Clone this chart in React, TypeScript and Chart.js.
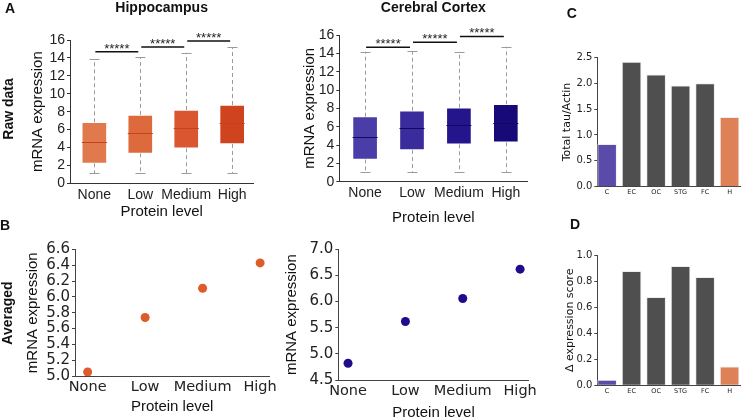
import React, { useEffect, useRef } from 'react';
import { Chart, registerables } from 'chart.js';
Chart.register(...registerables);

// ---------- data ----------
const proteinLevels = ['None', 'Low', 'Medium', 'High'];

// Panel A – Hippocampus (raw data box plots)
const hipLow = [1.12, 1.1, 1.1, 1.1];
const hipQ1 = [2.23, 3.35, 3.91, 4.39];
const hipMed = [4.58, 5.65, 6.14, 6.7];
const hipQ3 = [6.81, 7.63, 8.18, 8.74];
const hipHigh = [13.84, 14.07, 14.58, 15.18];
const hipSigY = [14.7, 15.22, 15.89];

// Panel A – Cerebral Cortex
const ctxLow = [1.09, 1.09, 1.09, 1.09];
const ctxQ1 = [2.44, 3.46, 4.08, 4.3];
const ctxMed = [4.91, 5.82, 6.18, 6.43];
const ctxQ3 = [7.09, 7.74, 8.07, 8.44];
const ctxHigh = [14.18, 14.25, 14.2, 14.72];
const ctxSigY = [14.66, 15.2, 15.85];

const sigFrom = [0, 1, 2];
const sigTo = [1, 2, 3];
const sigLabel = '*****';

// Panel B – averaged
const hipAvg = [5.05, 5.74, 6.11, 6.43];
const ctxAvg = [4.82, 5.62, 6.06, 6.62];

// Panels C / D
const regions = ['C', 'EC', 'OC', 'STG', 'FC', 'H'];
const totalTau = [0.82, 2.41, 2.16, 1.95, 1.99, 1.34];
const deltaScore = [0.04, 0.877, 0.677, 0.915, 0.83, 0.143];

// ---------- styles ----------
const LIB = '"Liberation Sans", Arial, Helvetica, sans-serif';
const DJV = '"DejaVu Sans", Verdana, sans-serif';
const AXIS = '#333333';
const hipColors = ['#E07A4C', '#DD6A3C', '#DA5631', '#D0431F'];
const ctxColors = ['#4B3DA8', '#3A2C9C', '#25158C', '#170A78'];
const regionColors = ['#5A4BAA', '#4F4F4F', '#4F4F4F', '#4F4F4F', '#4F4F4F', '#DF8157'];

type Rect = { x: number; y: number; w: number; h: number };
type Area = { L: number; T: number; R: number; B: number };

const fixW = (w: number) => (s: any) => { s.width = w; };
const fixH = (h: number) => (s: any) => { s.height = h; };
const indexTicks = (n: number) => (s: any) => {
  s.ticks = Array.from({ length: n }, (_, i) => ({ value: i }));
};

function CanvasChart({ rect, make }: { rect: Rect; make: () => any }) {
  const ref = useRef<HTMLCanvasElement>(null);
  useEffect(() => {
    const chart = new Chart(ref.current as HTMLCanvasElement, make());
    return () => chart.destroy();
  }, []);
  return (
    <canvas
      ref={ref}
      width={rect.w}
      height={rect.h}
      style={{ position: 'absolute', left: rect.x, top: rect.y, width: rect.w, height: rect.h }}
    />
  );
}

function boxConfig(p: {
  rect: Rect; area: Area; xmin: number; xmax: number; title: string; titleBottom: number;
  lo: number[]; q1: number[]; med: number[]; q3: number[]; hi: number[]; sigY: number[];
  colors: string[]; medColor: string; yTitlePad: number; xTitlePad: number;
}) {
  const { rect, area } = p;
  const extras = {
    id: 'boxExtras',
    beforeDatasetsDraw(chart: any) {
      const { ctx, scales: { x, y } } = chart;
      ctx.save();
      ctx.strokeStyle = '#9b9b9b';
      ctx.lineWidth = 1;
      proteinLevels.forEach((_, i) => {
        const px = Math.round(x.getPixelForValue(i)) + 0.5;
        ctx.setLineDash([4, 3]);
        ctx.beginPath();
        ctx.moveTo(px, y.getPixelForValue(p.q3[i]));
        ctx.lineTo(px, y.getPixelForValue(p.hi[i]));
        ctx.moveTo(px, y.getPixelForValue(p.q1[i]));
        ctx.lineTo(px, y.getPixelForValue(p.lo[i]));
        ctx.stroke();
        ctx.setLineDash([]);
        ctx.beginPath();
        [p.lo[i], p.hi[i]].forEach((v) => {
          const py = Math.round(y.getPixelForValue(v)) + 0.5;
          ctx.moveTo(px - 5, py);
          ctx.lineTo(px + 5, py);
        });
        ctx.stroke();
      });
      ctx.restore();
    },
    afterDatasetsDraw(chart: any) {
      const { ctx, scales: { x, y } } = chart;
      const meta = chart.getDatasetMeta(0);
      ctx.save();
      ctx.strokeStyle = p.medColor;
      ctx.lineWidth = 1;
      proteinLevels.forEach((_, i) => {
        const w = meta.data[i].width;
        const px = x.getPixelForValue(i);
        const py = Math.round(y.getPixelForValue(p.med[i])) + 0.5;
        ctx.beginPath();
        ctx.moveTo(px - w / 2, py);
        ctx.lineTo(px + w / 2, py);
        ctx.stroke();
      });
      ctx.strokeStyle = '#111';
      ctx.lineWidth = 1.5;
      ctx.fillStyle = '#222';
      ctx.font = `13px ${LIB}`;
      ctx.textAlign = 'center';
      ctx.textBaseline = 'alphabetic';
      sigFrom.forEach((f, k) => {
        const x1 = x.getPixelForValue(f) + 1;
        const x2 = x.getPixelForValue(sigTo[k]) - 2;
        const py = y.getPixelForValue(p.sigY[k]);
        ctx.beginPath();
        ctx.moveTo(x1, py);
        ctx.lineTo(x2, py);
        ctx.stroke();
        ctx.fillText(sigLabel, (x1 + x2) / 2, py + 1);
      });
      ctx.restore();
    },
  };
  return {
    type: 'bar',
    data: {
      datasets: [{
        data: proteinLevels.map((_, i) => ({ x: i, y: [p.q1[i], p.q3[i]] })),
        backgroundColor: p.colors,
        borderColor: 'rgba(255,255,255,0.35)',
        borderWidth: 1,
        borderSkipped: false,
        barThickness: 25,
      }],
    },
    options: {
      responsive: false,
      animation: false,
      layout: { autoPadding: false, padding: { top: 0, left: 0, bottom: 0, right: rect.x + rect.w - area.R } },
      plugins: {
        legend: { display: false },
        tooltip: { enabled: false },
        title: {
          display: true, text: p.title, fullSize: false, color: '#111',
          font: { family: LIB, size: 14, weight: 'bold' },
          padding: { top: 0, bottom: p.titleBottom },
        },
      },
      scales: {
        x: {
          type: 'linear', min: p.xmin, max: p.xmax, offset: false,
          afterBuildTicks: indexTicks(4),
          afterFit: fixH(rect.y + rect.h - area.B),
          grid: { display: false, drawTicks: false, offset: false },
          border: { display: true, color: AXIS, width: 1 },
          ticks: {
            autoSkip: false, maxRotation: 0, padding: 3, color: '#222',
            font: { family: LIB, size: 14 },
            callback: (v: number) => proteinLevels[v] ?? '',
          },
          title: {
            display: true, text: 'Protein level', color: '#111',
            font: { family: LIB, size: 15 }, padding: { top: 0, bottom: p.xTitlePad },
          },
        },
        y: {
          min: 0, max: 16,
          afterFit: fixW(area.L - rect.x),
          grid: { display: true, drawOnChartArea: false, drawTicks: true, tickLength: 3, color: AXIS },
          border: { display: true, color: AXIS, width: 1 },
          ticks: { stepSize: 2, autoSkip: false, padding: 2, color: '#222', font: { family: LIB, size: 14 } },
          title: {
            display: true, text: 'mRNA expression', color: '#111',
            font: { family: LIB, size: 15 }, padding: { top: p.yTitlePad, bottom: 0 },
          },
        },
      },
    },
    plugins: [extras],
  };
}

function avgConfig(p: {
  rect: Rect; area: Area; xmin: number; xmax: number; ymin: number; ymax: number; step: number;
  values: number[]; color: string; yTitlePad: number; xTitlePad: number;
}) {
  const { rect, area } = p;
  return {
    type: 'scatter',
    data: {
      datasets: [{
        data: p.values.map((v, i) => ({ x: i, y: v })),
        backgroundColor: p.color,
        borderWidth: 0,
        pointRadius: 4.5,
      }],
    },
    options: {
      responsive: false,
      animation: false,
      layout: {
        autoPadding: false,
        padding: { top: area.T - rect.y, left: 0, bottom: 0, right: rect.x + rect.w - area.R },
      },
      plugins: { legend: { display: false }, tooltip: { enabled: false } },
      scales: {
        x: {
          type: 'linear', min: p.xmin, max: p.xmax,
          afterBuildTicks: indexTicks(4),
          afterFit: fixH(rect.y + rect.h - area.B),
          grid: { display: false, drawTicks: false },
          border: { display: true, color: '#444', width: 1 },
          ticks: {
            autoSkip: false, maxRotation: 0, padding: 3, color: '#222',
            font: { family: DJV, size: 14.5 },
            callback: (v: number) => proteinLevels[v] ?? '',
          },
          title: {
            display: true, text: 'Protein level', color: '#111',
            font: { family: LIB, size: 15 }, padding: { top: 0, bottom: p.xTitlePad },
          },
        },
        y: {
          min: p.ymin, max: p.ymax,
          afterFit: fixW(area.L - rect.x),
          grid: { display: true, drawOnChartArea: false, drawTicks: true, tickLength: 3, color: '#444' },
          border: { display: true, color: '#444', width: 1 },
          ticks: {
            stepSize: p.step, autoSkip: false, padding: 2, color: '#222',
            font: { family: DJV, size: 15 },
            callback: (v: number) => v.toFixed(1),
          },
          title: {
            display: true, text: 'mRNA expression', color: '#111',
            font: { family: LIB, size: 15 }, padding: { top: p.yTitlePad, bottom: 0 },
          },
        },
      },
    },
  };
}

function regionConfig(p: {
  rect: Rect; area: Area; values: number[]; ymax: number; step: number; yTitle: string; yTitlePad: number;
}) {
  const { rect, area } = p;
  return {
    type: 'bar',
    data: {
      datasets: [{
        data: p.values.map((v, i) => ({ x: i, y: v })),
        backgroundColor: regionColors,
        borderColor: 'rgba(235,235,235,0.9)',
        borderWidth: 1,
        borderSkipped: 'bottom',
        barThickness: 19,
      }],
    },
    options: {
      responsive: false,
      animation: false,
      layout: {
        autoPadding: false,
        padding: { top: area.T - rect.y, left: 0, bottom: 0, right: rect.x + rect.w - area.R },
      },
      plugins: { legend: { display: false }, tooltip: { enabled: false } },
      scales: {
        x: {
          type: 'linear', min: -0.4, max: 5.45, offset: false,
          afterBuildTicks: indexTicks(6),
          afterFit: fixH(rect.y + rect.h - area.B),
          grid: { display: false, drawTicks: false, offset: false },
          border: { display: true, color: '#444', width: 1 },
          ticks: {
            autoSkip: false, maxRotation: 0, padding: 2, color: '#222',
            font: { family: DJV, size: 6.5 },
            callback: (v: number) => regions[v] ?? '',
          },
        },
        y: {
          min: 0, max: p.ymax,
          afterFit: fixW(area.L - rect.x),
          grid: { display: true, drawOnChartArea: false, drawTicks: true, tickLength: 3, color: '#444' },
          border: { display: true, color: '#444', width: 1 },
          ticks: {
            stepSize: p.step, autoSkip: false, padding: 2, color: '#222',
            font: { family: DJV, size: 10 },
            callback: (v: number) => v.toFixed(1),
          },
          title: {
            display: true, text: p.yTitle, color: '#111',
            font: { family: DJV, size: 11 }, padding: { top: p.yTitlePad, bottom: 0 },
          },
        },
      },
    },
  };
}

// ---------- layout ----------
const rHipA: Rect = { x: 0, y: 0, w: 270, h: 225 };
const aHipA: Area = { L: 70, T: 40, R: 253.3, B: 183.3 };
const rCtxA: Rect = { x: 280, y: 0, w: 260, h: 230 };
const aCtxA: Area = { L: 339.3, T: 35, R: 527.4, B: 181.7 };
const rHipB: Rect = { x: 20, y: 230, w: 270, h: 190 };
const aHipB: Area = { L: 75, T: 249.5, R: 269.3, B: 376 };
const rCtxB: Rect = { x: 276, y: 230, w: 264, h: 192 };
const aCtxB: Area = { L: 338.3, T: 249.3, R: 535, B: 380 };
const rC: Rect = { x: 540, y: 0, w: 201, h: 205 };
const aC: Area = { L: 597.3, T: 57.3, R: 740.6, B: 186.7 };
const rD: Rect = { x: 540, y: 205, w: 201, h: 215 };
const aD: Area = { L: 597.3, T: 255.3, R: 740.6, B: 385.3 };

function Label({ text, cx, cy, size = 14, rotate = false }: { text: string; cx: number; cy: number; size?: number; rotate?: boolean }) {
  return (
    <div
      style={{
        position: 'absolute', left: cx, top: cy, whiteSpace: 'nowrap',
        transform: `translate(-50%, -50%)${rotate ? ' rotate(-90deg)' : ''}`,
        fontFamily: LIB, fontWeight: 'bold', fontSize: size, lineHeight: 1, color: '#111',
      }}
    >
      {text}
    </div>
  );
}

export default function App() {
  return (
    <div style={{ position: 'fixed', left: 0, top: 0, width: 741, height: 420, overflow: 'hidden', background: '#fff' }}>
      <CanvasChart rect={rHipA} make={() => boxConfig({
        rect: rHipA, area: aHipA, xmin: -0.53, xmax: 3.46, title: 'Hippocampus', titleBottom: 23.2,
        lo: hipLow, q1: hipQ1, med: hipMed, q3: hipQ3, hi: hipHigh, sigY: hipSigY,
        colors: hipColors, medColor: '#C8401C', yTitlePad: 29.3, xTitlePad: 4.3,
      })} />
      <CanvasChart rect={rCtxA} make={() => boxConfig({
        rect: rCtxA, area: aCtxA, xmin: -0.55, xmax: 3.46, title: 'Cerebral Cortex', titleBottom: 18.2,
        lo: ctxLow, q1: ctxQ1, med: ctxMed, q3: ctxQ3, hi: ctxHigh, sigY: ctxSigY,
        colors: ctxColors, medColor: '#120860', yTitlePad: 21, xTitlePad: 2.7,
      })} />
      <CanvasChart rect={rHipB} make={() => avgConfig({
        rect: rHipB, area: aHipB, xmin: -0.22, xmax: 3.16, ymin: 5.0, ymax: 6.6, step: 0.2,
        values: hipAvg, color: '#DE5B2B', yTitlePad: 4.3, xTitlePad: 4.3,
      })} />
      <CanvasChart rect={rCtxB} make={() => avgConfig({
        rect: rCtxB, area: aCtxB, xmin: -0.17, xmax: 3.15, ymin: 4.5, ymax: 7.0, step: 0.5,
        values: ctxAvg, color: '#1E0C8C', yTitlePad: 6.7, xTitlePad: 0.3,
      })} />
      <CanvasChart rect={rC} make={() => regionConfig({
        rect: rC, area: aC, values: totalTau, ymax: 2.5, step: 0.5, yTitle: 'Total tau/Actin', yTitlePad: 20.1,
      })} />
      <CanvasChart rect={rD} make={() => regionConfig({
        rect: rD, area: aD, values: deltaScore, ymax: 1.0, step: 0.2, yTitle: 'Δ expression score', yTitlePad: 23.4,
      })} />
      <Label text="A" cx={10} cy={8.3} />
      <Label text="B" cx={5} cy={224.5} />
      <Label text="C" cx={571.7} cy={13.3} />
      <Label text="D" cx={575} cy={224.3} />
      <Label text="Raw data" cx={8} cy={108.7} rotate />
      <Label text="Averaged" cx={7} cy={313} rotate />
    </div>
  );
}
